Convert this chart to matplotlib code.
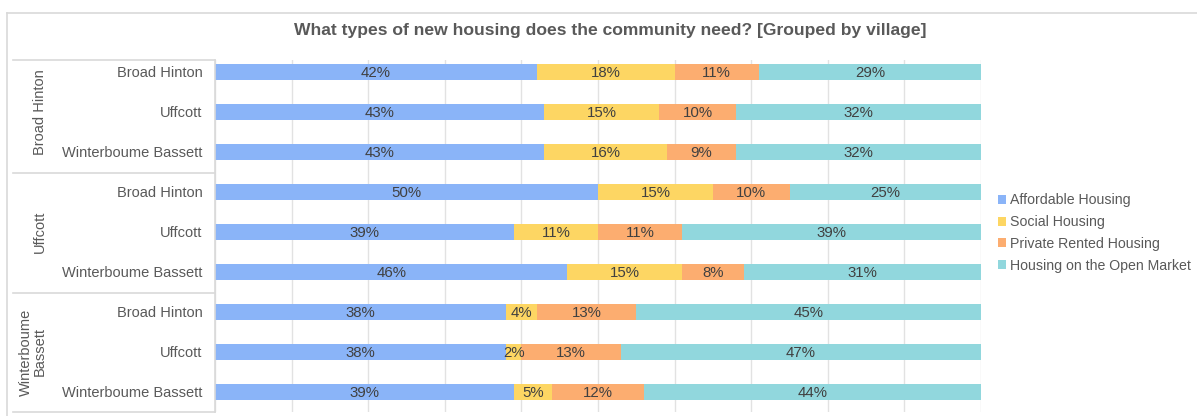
import matplotlib
matplotlib.use("Agg")
import numpy as np
import matplotlib.pyplot as plt
from matplotlib.lines import Line2D
from matplotlib.patches import Patch

# --- DATOS ---
grupos = ["Broad Hinton", "Uffcott", "Winterboume\nBassett"]
pueblos = ["Broad Hinton", "Uffcott", "Winterboume Bassett"]
series = ["Affordable Housing", "Social Housing", "Private Rented Housing",
          "Housing on the Open Market"]

affordable = [42, 43, 43, 50, 39, 46, 38, 38, 39]
social = [18, 15, 16, 15, 11, 15, 4, 2, 5]
private = [11, 10, 9, 10, 11, 8, 13, 13, 12]
open_market = [29, 32, 32, 25, 39, 31, 45, 47, 44]

colores = ["#8ab4f8", "#fdd663", "#fcad70", "#91d7dd"]
gris = "#d9d9d9"
texto = "#595959"

W, H = 1197, 416
fig = plt.figure(figsize=(W / 100, H / 100), dpi=100)
plt.rcParams['font.family'] = ['Liberation Sans', 'DejaVu Sans']

def fx(px):
    return px / W

def fy(py):
    return 1 - py / H

ax = fig.add_axes([fx(215), fy(412), fx(981) - fx(215), fy(60) - fy(412)])

valores = [affordable, social, private, open_market]
n = len(affordable)
y = np.arange(n)
izq = np.zeros(n)
for vals, col, nombre in zip(valores, colores, series):
    vals = np.array(vals, dtype=float)
    ax.barh(y, vals, left=izq, height=0.4, color=col, label=nombre, zorder=2)
    for yi, l, v in zip(y, izq, vals):
        ax.text(l + v / 2, yi + 0.03, f"{int(v)}%", ha="center", va="center",
                fontsize=10.8, color="#404040", zorder=3)
    izq += vals

ax.set_xlim(0, 100)
ax.set_ylim(8.5, -0.3)
ax.set_xticks(np.arange(0, 101, 10))
ax.xaxis.grid(True, color="#e2e2e2", linewidth=1, zorder=0)
ax.tick_params(left=False, bottom=False, labelbottom=False, labelleft=False)
for s in ax.spines.values():
    s.set_visible(False)

# Etiquetas de categorias
etiquetas = pueblos * 3
for yi, et in zip(y, etiquetas):
    ax.text(-1.6, yi + 0.03, et, ha="right", va="center", fontsize=10.5,
            color=texto, transform=ax.transData, clip_on=False)

# Titulo
fig.text(fx(610), fy(31), "What types of new housing does the community need? [Grouped by village]",
         ha="center", va="center", fontsize=12.6, fontweight="bold", color=texto)

# Marco exterior y tabla de grupos
lineas = [
    ((7, 7), (13, 416)),
    ((7, 1197), (13, 13)),
    ((13, 215), (60, 60)),
    ((13, 215), (173, 173)),
    ((13, 215), (293, 293)),
    ((13, 215), (412, 412)),
    ((215, 215), (60, 412)),
]
for xs, ys in lineas:
    fig.add_artist(Line2D([fx(xs[0]), fx(xs[1])], [fy(ys[0]), fy(ys[1])],
                          color=gris, linewidth=1.2))

centros = [(40, 112), (40, 232), (33, 352)]
for g, (cx, cy) in zip(grupos, centros):
    fig.text(fx(cx), fy(cy), g, rotation=90, ha="center", va="center",
             fontsize=10.5, color=texto, multialignment="center", linespacing=1.0)

# Leyenda
handles = [Patch(facecolor=c, edgecolor="none") for c in colores]
fig.legend(handles, series, loc="center left", bbox_to_anchor=(fx(985), fy(233)),
           frameon=False, fontsize=10.2, handlelength=0.6, handleheight=0.6,
           handletextpad=0.25, labelspacing=0.55, labelcolor=texto)

fig.savefig("out.png", dpi=100)
